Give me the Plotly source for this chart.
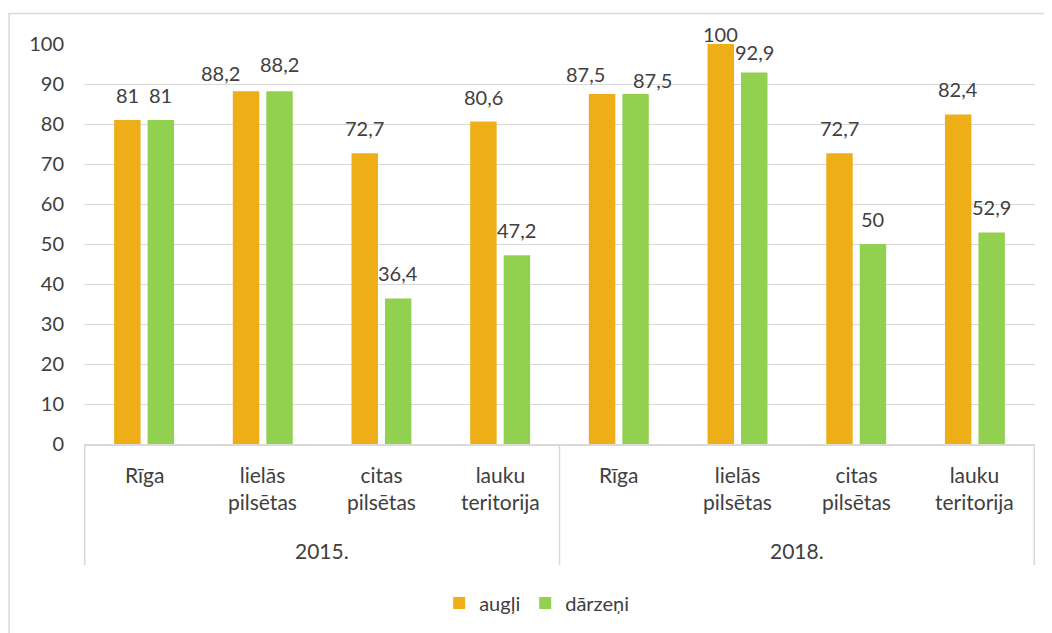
import plotly.graph_objects as go

years = ["2015.", "2015.", "2015.", "2015.", "2018.", "2018.", "2018.", "2018."]
regions = ["Rīga", "lielās<br>pilsētas", "citas<br>pilsētas", "lauku<br>teritorija",
           "Rīga", "lielās<br>pilsētas", "citas<br>pilsētas", "lauku<br>teritorija"]
augli = [81, 88.2, 72.7, 80.6, 87.5, 100, 72.7, 82.4]
darzeni = [81, 88.2, 36.4, 47.2, 87.5, 92.9, 50, 52.9]
y_ticks = list(range(0, 101, 10))

# manual label nudges (px) used in the original to avoid overlaps: (dx, dy)
augli_nudge = [(0, 0), (-26, -7), (0, 0), (0, 0), (-17, -5), (0, -15), (0, 0), (0, 0)]
darzeni_nudge = [(0, 0), (0, 2), (0, 0), (0, 0), (17, -11), (0, -5), (0, 0), (0, 0)]

def fmt(v):
    return ("%g" % v).replace(".", ",")

FONT = "Lato, Carlito, 'Open Sans', sans-serif"
TXT = "#404040"
GRID = "#D9D9D9"
OFF = 8  # page body margin
LABEL_UP = 25  # label centre above bar top (px)
HALF = 16.75   # half distance between bars of a pair (px)

L, R, T, B = 84 - OFF, 1035 - OFF, 44 - OFF, 444 - OFF
W, H = 1052 - OFF, 633 - OFF
PH = B - T

fig = go.Figure()
for name, vals, col in [("augļi", augli, "#EDAE17"), ("dārzeņi", darzeni, "#92D050")]:
    fig.add_trace(go.Bar(name=name, x=[years, regions], y=vals,
                         marker_color=col, marker_line_width=0))

# value labels
for vals, nudge, side in [(augli, augli_nudge, -1), (darzeni, darzeni_nudge, 1)]:
    for i, v in enumerate(vals):
        dx, dy = nudge[i]
        fig.add_annotation(x=i, y=v, xref="x", yref="y", text=fmt(v), showarrow=False,
                           xanchor="center", yanchor="middle",
                           xshift=side * HALF + dx, yshift=LABEL_UP + dy,
                           font=dict(size=20, color=TXT, family=FONT))

# category labels (inner level)
for i, r in enumerate(regions):
    fig.add_annotation(x=i, y=0, xref="x", yref="paper", text=r, showarrow=False,
                       xanchor="center", yanchor="top", yshift=-16,
                       font=dict(size=21, color=TXT, family=FONT))
# group labels (outer level) and dividers
groups = list(dict.fromkeys(years))
for g in groups:
    idx = [i for i, y in enumerate(years) if y == g]
    fig.add_annotation(x=(idx[0] + idx[-1]) / 2, y=0, xref="x", yref="paper", text=g,
                       showarrow=False, xanchor="center", yanchor="middle", yshift=-106,
                       font=dict(size=21, color=TXT, family=FONT))
bounds = [-0.5] + [i + 0.5 for i in range(len(years) - 1) if years[i] != years[i + 1]] + [len(years) - 0.5]
for bx in bounds:
    fig.add_shape(type="line", xref="x", yref="paper", x0=bx, x1=bx, y0=0, y1=-121 / PH,
                  line=dict(color=GRID, width=1.5))

fig.update_layout(
    width=W, height=H,
    margin=dict(l=L, r=W - R, t=T, b=H - B, autoexpand=False),
    paper_bgcolor="white", plot_bgcolor="white",
    barmode="group", bargap=0.436, bargroupgap=0.21,
    font=dict(family=FONT, size=20, color=TXT),
    showlegend=True,
    legend=dict(orientation="h", x=0.476, xanchor="center",
                y=(B - (603 - OFF)) / PH, yanchor="middle",
                font=dict(size=20, color=TXT), traceorder="normal"),
)
fig.update_yaxes(range=[0, 100], tickvals=y_ticks, showgrid=True, gridcolor=GRID,
                 gridwidth=1.3, zeroline=False, showline=False, ticks="",
                 tickfont=dict(size=20, color=TXT), ticklabelstandoff=19)
fig.update_xaxes(type="multicategory", showline=True, linecolor=GRID, linewidth=1.5,
                 showdividers=False, showticklabels=False, ticks="")
# outer chart border
fig.add_shape(type="rect", xref="paper", yref="paper",
              x0=(9 - OFF - L) / (R - L), x1=(1070 - OFF - L) / (R - L),
              y0=(B - 700) / PH, y1=(B - (13.5 - OFF)) / PH,
              line=dict(color=GRID, width=1.5), fillcolor="rgba(0,0,0,0)", layer="below")
fig.write_html("out.html")
